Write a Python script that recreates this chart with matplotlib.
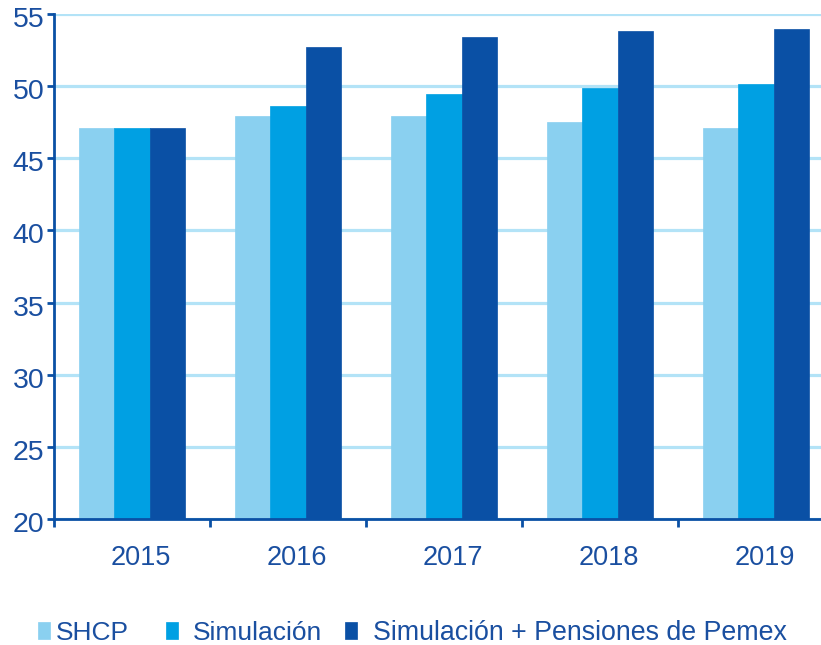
import matplotlib
matplotlib.use("Agg")
import matplotlib.pyplot as plt
import matplotlib.transforms as mtransforms
import numpy as np

years = ["2015", "2016", "2017", "2018", "2019"]
shcp = [47.1, 47.9, 47.9, 47.5, 47.1]
simulacion = [47.1, 48.6, 49.45, 49.85, 50.15]
sim_pemex = [47.1, 52.7, 53.4, 53.8, 53.95]
series_names = ["SHCP", "Simulación", "Simulación + Pensiones de Pemex"]
colors = ["#8AD0F0", "#00A0E3", "#0A50A5"]
yticks = [20, 25, 30, 35, 40, 45, 50, 55]

text_color = "#1A4FA0"
axis_color = "#0A50A5"
grid_color = "#B3E3F7"

plt.rcParams['font.family'] = ['Liberation Sans', 'DejaVu Sans']

W, H = 821, 645
fig = plt.figure(figsize=(W / 100, H / 100), dpi=100)
left, right, top, bottom = 54, 834, 14, 519
ax = fig.add_axes([left / W, (H - bottom) / H, (right - left) / W, (bottom - top) / H])

x = np.arange(len(years))
bw = 0.226
bars = []
for i, (vals, name, c) in enumerate(zip([shcp, simulacion, sim_pemex], series_names, colors)):
    b = ax.bar(x + (i - 1) * bw, vals, width=bw, color=c, label=name, zorder=3,
               edgecolor=c, linewidth=0.5)
    bars.append(b)

ax.set_xlim(-0.5, len(years) - 0.5)
ax.set_ylim(20, 55)
ax.set_yticks(yticks)
ax.set_yticklabels([str(v) for v in yticks])
ax.set_xticks(x)
ax.set_xticklabels(years)
ax.set_xticks(np.arange(len(years) + 1) - 0.5, minor=True)

ax.yaxis.grid(True, color=grid_color, linewidth=2.3, zorder=0)
ax.set_axisbelow(True)

for s in ["top", "right"]:
    ax.spines[s].set_visible(False)
for s in ["left", "bottom"]:
    ax.spines[s].set_color(axis_color)
    ax.spines[s].set_linewidth(2)
    ax.spines[s].set_zorder(5)

ax.tick_params(axis="y", colors=axis_color, labelcolor=text_color, labelsize=20.5,
               length=5, width=2, direction="out", pad=2)
ax.tick_params(axis="x", which="major", length=0, labelcolor=text_color, labelsize=19.5, pad=19)
ax.tick_params(axis="x", which="minor", length=6, width=2, colors=axis_color, direction="out")

# small offsets of tick labels as in the reference
off_x = mtransforms.ScaledTranslation(9 / 100, 0, fig.dpi_scale_trans)
for lbl in ax.get_xticklabels():
    lbl.set_transform(lbl.get_transform() + off_x)
off_y = mtransforms.ScaledTranslation(0, -3 / 100, fig.dpi_scale_trans)
for lbl in ax.get_yticklabels():
    lbl.set_transform(lbl.get_transform() + off_y)

box_left = [38, 166, 345]
text_pads = [0.19, 0.53, 0.6]
font_sizes = [19, 19, 19.3]
for b, name, bx, tp, fs in zip(bars, series_names, box_left, text_pads, font_sizes):
    leg = fig.legend([b], [name], loc="center left", bbox_to_anchor=(bx / W, 1 - 633 / H),
                     frameon=False, fontsize=fs, handlelength=0.47 * 19 / fs,
                     handleheight=0.62 * 19 / fs,
                     handletextpad=tp, borderaxespad=0, borderpad=0)
    for t in leg.get_texts():
        t.set_color(text_color)

fig.savefig("out.png", dpi=100)
